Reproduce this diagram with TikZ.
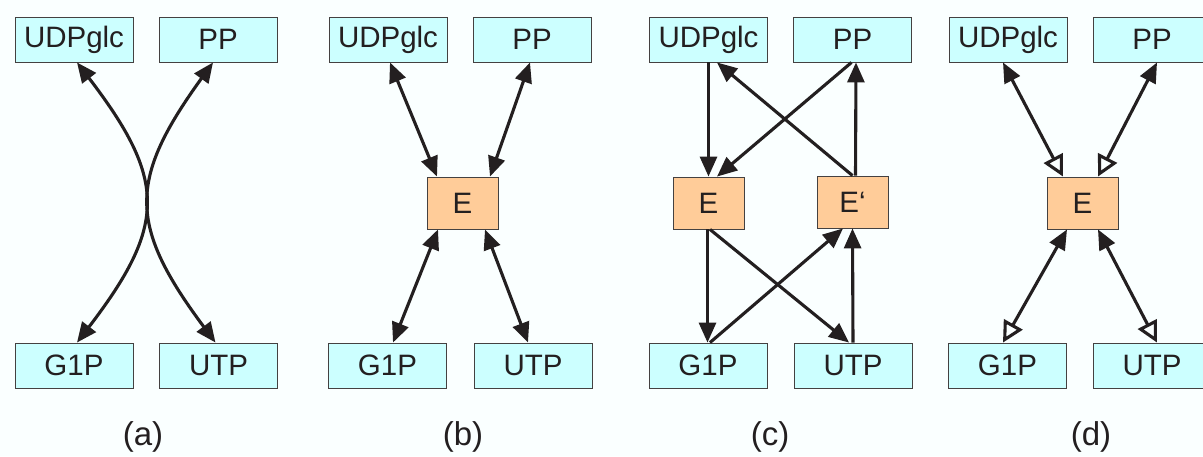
\documentclass[tikz,border=0pt]{standalone}
\usepackage{fontspec}
\setmainfont{Liberation Sans}
\usetikzlibrary{arrows.meta}
\definecolor{bg}{RGB}{250,255,255}
\definecolor{boxcyan}{RGB}{204,255,255}
\definecolor{enzorange}{RGB}{255,204,153}
\definecolor{ink}{RGB}{35,31,32}
\tikzset{
  ftip/.tip={Triangle[length=20pt,width=17pt]},
  otip/.tip={Triangle[open,length=21pt,width=21pt]}
}
\begin{document}
\begin{tikzpicture}[x=1pt,y=-1pt,
  box/.style={draw=ink!85, line width=0.9pt, fill=boxcyan, minimum width=118pt, minimum height=45pt, inner sep=0pt, text=ink, font=\fontsize{29.5}{30}\selectfont},
  enz/.style={box, fill=enzorange, minimum width=71pt, minimum height=52pt},
  lab/.style={text=ink, font=\fontsize{33}{35}\selectfont},
  conn/.style={draw=ink, line width=3.1pt},
  fo/.style={{ftip}-{otip}},
  bi/.style={{ftip}-{ftip}},
  one/.style={-{ftip}}]
\fill[bg] (0,0) rectangle (1203,456);
\useasboundingbox (0,0) rectangle (1203,456);
% ---------- (a)
\node[box] (au) at (74,39.5) {UDPglc};
\node[box] (ap) at (218,39.5) {PP};
\node[box] (ag) at (74,365.5) {G1P};
\node[box] (at) at (218.5,365.5) {UTP};
\draw[conn,bi] ([xshift=3pt]au.south) .. controls (167,180) and (167,225) .. ([xshift=3pt]ag.north);
\draw[conn,bi] ([xshift=-5pt]ap.south) .. controls (128,180) and (128,225) .. ([xshift=-3pt]at.north);
\node[lab] (la) at (143,437) {(a)};
% ---------- (b)
\node[box] (bu) at (388,39.5) {UDPglc};
\node[box] (bp) at (532,39.5) {PP};
\node[enz] (be) at (462.5,203) {E};
\node[box] (bg) at (387.5,365.5) {G1P};
\node[box] (bt) at (533,365.5) {UTP};
\draw[conn,bi] ([xshift=2pt]bu.south) -- ([xshift=-25.5pt]be.north);
\draw[conn,bi] ([xshift=-2pt]bp.south) -- ([xshift=27.5pt]be.north);
\draw[conn,bi] ([xshift=-24.5pt]be.south) -- ([xshift=5.5pt]bg.north);
\draw[conn,bi] ([xshift=22.5pt]be.south) -- ([xshift=-5pt]bt.north);
\node[lab] (lb) at (463,437) {(b)};
% ---------- (c)
\node[box] (cu) at (708.5,39.5) {UDPglc};
\node[box] (cp) at (852.5,39.5) {PP};
\node[enz] (ce) at (708.5,203) {E};
\node[enz] (cf) at (852.5,202) {E‘};
\node[box] (cg) at (708,365.5) {G1P};
\node[box] (ct) at (853,365.5) {UTP};
\draw[conn,one] (cu.south) -- (ce.north);
\draw[conn,one] ([xshift=-1pt]cp.south) -- ([xshift=8.5pt]ce.north);
\draw[conn,one] (cf.north) -- ([xshift=8.5pt]cu.south);
\draw[conn,one] ([xshift=3pt]cf.north) -- ([xshift=3.5pt]cp.south);
\draw[conn,one] ([xshift=-1pt]ce.south) -- ([xshift=-0.5pt]cg.north);
\draw[conn,one] ([xshift=1.5pt]ce.south) -- ([xshift=-4pt]ct.north);
\draw[conn,one] ([xshift=2pt]cg.north) -- ([xshift=-9.5pt]cf.south);
\draw[conn,one] (ct.north) -- (cf.south);
\node[lab] (lc) at (770,437) {(c)};
% ---------- (d)
\node[box] (du) at (1008,39.5) {UDPglc};
\node[box] (dp) at (1152,39.5) {PP};
\node[enz] (de) at (1082.5,203) {E};
\node[box] (dg) at (1007.5,365.5) {G1P};
\node[box] (dt) at (1152,365.5) {UTP};
\draw[conn,fo] ([xshift=-5pt]du.south) -- ([xshift=-19.5pt]de.north);
\draw[conn,fo] ([xshift=5pt]dp.south) -- ([xshift=15.5pt]de.north);
\draw[conn,fo] ([xshift=-15.5pt]de.south) -- ([xshift=-4.5pt]dg.north);
\draw[conn,fo] ([xshift=15.5pt]de.south) -- ([xshift=5pt]dt.north);
\node[lab] (ld) at (1091,437) {(d)};
\end{tikzpicture}
\end{document}
